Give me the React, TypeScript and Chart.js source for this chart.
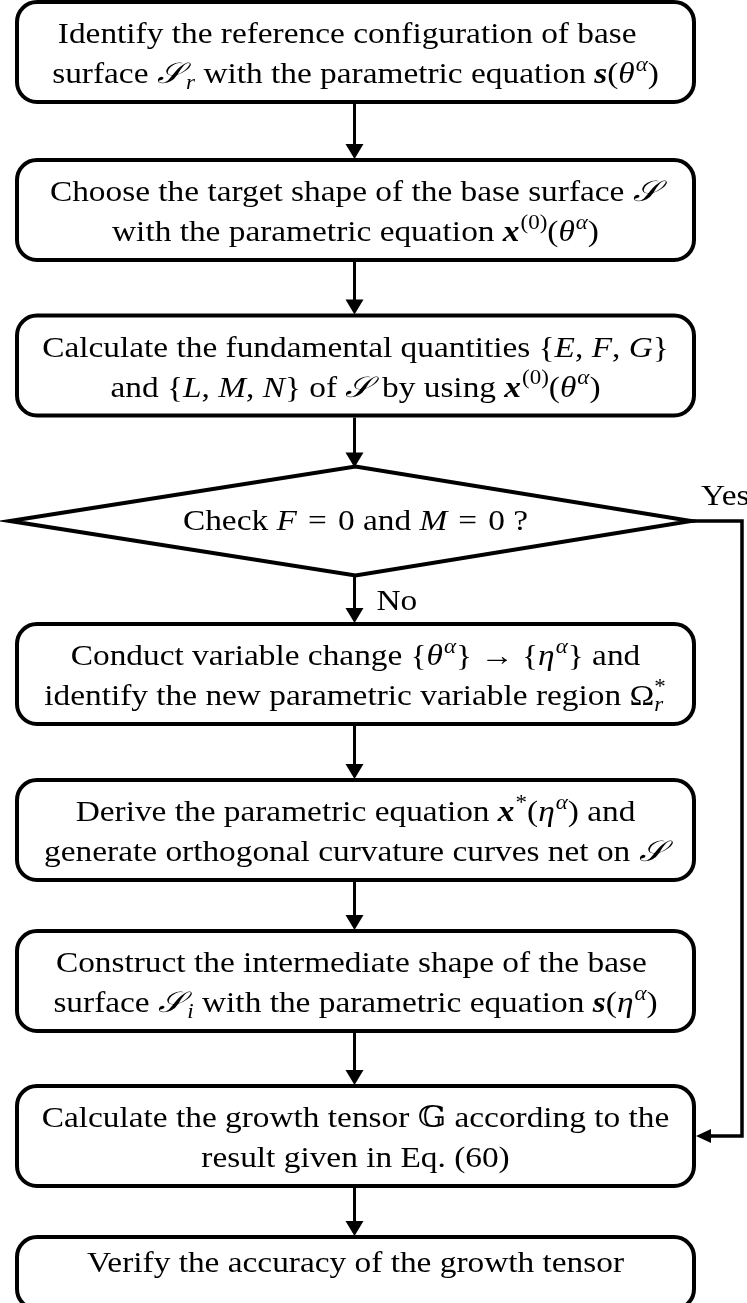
import React, { useEffect, useRef } from "react";
import { Chart, registerables } from "chart.js";

Chart.register(...registerables);

// ---------- data ----------
const stepLines: string[][] = [
  ["Identify the reference configuration of base  ", "surface [i:𝒮][_:r] with the parametric equation [b:s]([i:θ][^:α])"],
  ["Choose the target shape of the base surface [i:𝒮]", "with the parametric equation [b:x][^r:(0)]([i:θ][^:α])"],
  ["Calculate the fundamental quantities {[i:E], [i:F], [i:G]}", "and {[i:L], [i:M], [i:N]} of [i:𝒮] by using [b:x][^r:(0)]([i:θ][^:α])"],
  ["Check [i:F]\u2004=\u20040 and [i:M]\u2004=\u20040 ?"],
  ["Conduct variable change {[i:θ][^:α]} → {[i:η][^:α]} and", "identify the new parametric variable region Ω[_^:r|*]"],
  ["Derive the parametric equation [b:x][^r:*]([i:η][^:α]) and", "generate orthogonal curvature curves net on [i:𝒮]"],
  ["Construct the intermediate shape of the base ", "surface [i:𝒮][_:i] with the parametric equation [b:s]([i:η][^:α])"],
  ["Calculate the growth tensor 𝔾 according to the", "result given in Eq. (60)"],
  ["Verify the accuracy of the growth tensor"],
];
const stepKinds = ["box", "box", "box", "decision", "box", "box", "box", "box", "end"];
const stepY = [52, 210, 365.5, 521, 674, 830, 981, 1136, 1263];
const branchLabels = ["Yes", "No"];
const yesTarget = 7; // index of step the "Yes" branch goes to

// ---------- layout / style constants ----------
const W = 747;
const H = 1303;
const CX = 355.5;
const BOX_W = 677;
const BOX_H = 100;
const RADIUS = 20;
const LW = 4;
const DIA_L = 10;
const DIA_R = 691;
const DIA_HH = 54.5;
const RIGHT_X = 742;
const ARROW_X = 354.5;
const FAM = "'Liberation Serif', 'Times New Roman', 'DejaVu Serif', 'DejaVu Sans', serif";
const FS = 29;
const SX = 1.15;

type Seg = { t: string; k: string; t2?: string };

function parse(line: string): Seg[] {
  const out: Seg[] = [];
  const re = /\[(\^r|_\^|i|b|\^|_):([^\]]*)\]/g;
  let last = 0;
  let m: RegExpExecArray | null;
  while ((m = re.exec(line))) {
    if (m.index > last) out.push({ t: line.slice(last, m.index), k: "n" });
    if (m[1] === "_^") {
      const parts = m[2].split("|");
      out.push({ t: parts[0], k: "stack", t2: parts[1] });
    } else out.push({ t: m[2], k: m[1] });
    last = re.lastIndex;
  }
  if (last < line.length) out.push({ t: line.slice(last), k: "n" });
  return out;
}

const SMALL = Math.round(FS * 0.68);
function fontFor(k: string): string {
  switch (k) {
    case "i":
      return `italic ${FS}px ${FAM}`;
    case "b":
      return `italic bold ${FS}px ${FAM}`;
    case "^":
    case "_":
      return `italic ${SMALL}px ${FAM}`;
    case "^r":
      return `${SMALL}px ${FAM}`;
    default:
      return `${FS}px ${FAM}`;
  }
}

function segWidth(ctx: CanvasRenderingContext2D, s: Seg): number {
  if (s.k === "stack") {
    ctx.font = fontFor("_");
    const a = ctx.measureText(s.t).width;
    ctx.font = fontFor("^r");
    const b = ctx.measureText(s.t2 || "").width;
    return Math.max(a, b) * SX + 1;
  }
  ctx.font = fontFor(s.k);
  let w = ctx.measureText(s.t).width * SX;
  if (s.k === "^" || s.k === "^r" || s.k === "_") w += 1;
  if (s.k === "i" && s.t === "𝒮") w += 3;
  return w;
}

function drawText(ctx: CanvasRenderingContext2D, t: string, font: string, x: number, y: number) {
  ctx.save();
  ctx.font = font;
  ctx.translate(x, y);
  ctx.scale(SX, 1);
  ctx.fillText(t, 0, 0);
  ctx.restore();
}

function drawRich(ctx: CanvasRenderingContext2D, line: string, cx: number, baseline: number) {
  const segs = parse(line);
  const total = segs.reduce((a, s) => a + segWidth(ctx, s), 0);
  let x = cx - total / 2;
  for (const s of segs) {
    const w = segWidth(ctx, s);
    if (s.k === "stack") {
      drawText(ctx, s.t, fontFor("_"), x, baseline + FS * 0.22);
      drawText(ctx, s.t2 || "", fontFor("^r"), x, baseline - FS * 0.4);
    } else if (s.k === "^" || s.k === "^r") {
      drawText(ctx, s.t, fontFor(s.k), x + 1, baseline - FS * 0.42);
    } else if (s.k === "_") {
      drawText(ctx, s.t, fontFor(s.k), x + 1, baseline + FS * 0.22);
    } else {
      drawText(ctx, s.t, fontFor(s.k), x, baseline);
    }
    x += w;
  }
}

function roundRect(ctx: CanvasRenderingContext2D, x: number, y: number, w: number, h: number, r: number) {
  ctx.beginPath();
  ctx.moveTo(x + r, y);
  ctx.lineTo(x + w - r, y);
  ctx.arcTo(x + w, y, x + w, y + r, r);
  ctx.lineTo(x + w, y + h - r);
  ctx.arcTo(x + w, y + h, x + w - r, y + h, r);
  ctx.lineTo(x + r, y + h);
  ctx.arcTo(x, y + h, x, y + h - r, r);
  ctx.lineTo(x, y + r);
  ctx.arcTo(x, y, x + r, y, r);
  ctx.closePath();
}

function arrowDown(ctx: CanvasRenderingContext2D, x: number, y1: number, y2: number) {
  ctx.lineWidth = 3;
  ctx.beginPath();
  ctx.moveTo(x, y1);
  ctx.lineTo(x, y2 - 12);
  ctx.stroke();
  ctx.beginPath();
  ctx.moveTo(x - 9, y2 - 15);
  ctx.lineTo(x + 9, y2 - 15);
  ctx.lineTo(x, y2);
  ctx.closePath();
  ctx.fill();
}

const flowPlugin = {
  id: "flow",
  beforeDraw(chart: any) {
    const ctx: CanvasRenderingContext2D = chart.ctx;
    ctx.save();
    ctx.fillStyle = "#fff";
    ctx.fillRect(0, 0, chart.width, chart.height);
    ctx.restore();
  },
  afterDatasetsDraw(chart: any) {
    const ctx: CanvasRenderingContext2D = chart.ctx;
    const xs = chart.scales.x;
    const ys = chart.scales.y;
    const px = (v: number) => xs.getPixelForValue(v);
    const py = (v: number) => ys.getPixelForValue(v);
    ctx.save();
    ctx.strokeStyle = "#000";
    ctx.fillStyle = "#000";
    ctx.lineJoin = "miter";
    ctx.textBaseline = "alphabetic";
    ctx.textAlign = "left";

    const extents = stepY.map((y, i) => {
      const k = stepKinds[i];
      if (k === "decision") return { top: py(y - DIA_HH), bot: py(y + DIA_HH) };
      if (k === "end") return { top: py(y - 26) - LW / 2, bot: py(y + 46) + LW / 2 };
      return { top: py(y - BOX_H / 2) - LW / 2, bot: py(y + BOX_H / 2) + LW / 2 };
    });

    // shapes
    stepY.forEach((y, i) => {
      const k = stepKinds[i];
      ctx.lineWidth = LW;
      if (k === "decision") {
        ctx.beginPath();
        ctx.moveTo(px(DIA_L), py(y));
        ctx.lineTo(px(CX), py(y - DIA_HH));
        ctx.lineTo(px(DIA_R), py(y));
        ctx.lineTo(px(CX), py(y + DIA_HH));
        ctx.closePath();
        ctx.stroke();
      } else {
        const top = k === "end" ? py(y - 26) : py(y - BOX_H / 2);
        const bot = k === "end" ? py(y + 46) : py(y + BOX_H / 2);
        roundRect(ctx, px(CX - BOX_W / 2), top, px(CX + BOX_W / 2) - px(CX - BOX_W / 2), bot - top, RADIUS);
        ctx.stroke();
      }
    });

    // arrows between consecutive steps
    for (let i = 0; i < stepY.length - 1; i++) {
      arrowDown(ctx, px(ARROW_X), extents[i].bot, extents[i + 1].top + 1);
    }

    // yes branch
    const di = stepKinds.indexOf("decision");
    const yd = py(stepY[di]);
    const yt = py(stepY[yesTarget]);
    const boxRight = px(CX + BOX_W / 2) + LW / 2;
    ctx.lineWidth = 3.5;
    ctx.beginPath();
    ctx.moveTo(px(DIA_R), yd);
    ctx.lineTo(px(RIGHT_X), yd);
    ctx.lineTo(px(RIGHT_X), yt);
    ctx.lineTo(boxRight + 12, yt);
    ctx.stroke();
    ctx.beginPath();
    ctx.moveTo(boxRight + 15, yt - 7);
    ctx.lineTo(boxRight + 15, yt + 7);
    ctx.lineTo(boxRight, yt);
    ctx.closePath();
    ctx.fill();

    // texts
    stepLines.forEach((lines, i) => {
      const y = py(stepY[i]);
      if (lines.length === 2) {
        drawRich(ctx, lines[0], px(CX), y - 9);
        drawRich(ctx, lines[1], px(CX), y + 31);
      } else {
        drawRich(ctx, lines[0], px(CX), y + 9);
      }
    });

    // branch labels
    drawText(ctx, branchLabels[0], `${FS}px ${FAM}`, px(DIA_R) + 10, yd - 16);
    drawText(ctx, branchLabels[1], `${FS}px ${FAM}`, px(ARROW_X) + 22, extents[di].bot + 34);

    ctx.restore();
  },
};

export default function App() {
  const ref = useRef<HTMLCanvasElement | null>(null);
  useEffect(() => {
    document.body.style.margin = "0";
    const canvas = ref.current;
    if (!canvas) return;
    const chart = new Chart(canvas, {
      type: "scatter",
      data: {
        datasets: [
          {
            data: stepY.map((y) => ({ x: CX, y })),
            pointRadius: 0,
            pointHoverRadius: 0,
          },
        ],
      },
      options: {
        animation: false,
        responsive: false,
        devicePixelRatio: 1,
        layout: { padding: 0 },
        events: [],
        scales: {
          x: { type: "linear", min: 0, max: W, display: false },
          y: { type: "linear", min: 0, max: H, reverse: true, display: false },
        },
        plugins: { legend: { display: false }, tooltip: { enabled: false } },
      },
      plugins: [flowPlugin],
    });
    return () => chart.destroy();
  }, []);
  return (
    <div style={{ width: W, height: H }}>
      <canvas ref={ref} width={W} height={H} style={{ display: "block", width: W, height: H }} />
    </div>
  );
}
